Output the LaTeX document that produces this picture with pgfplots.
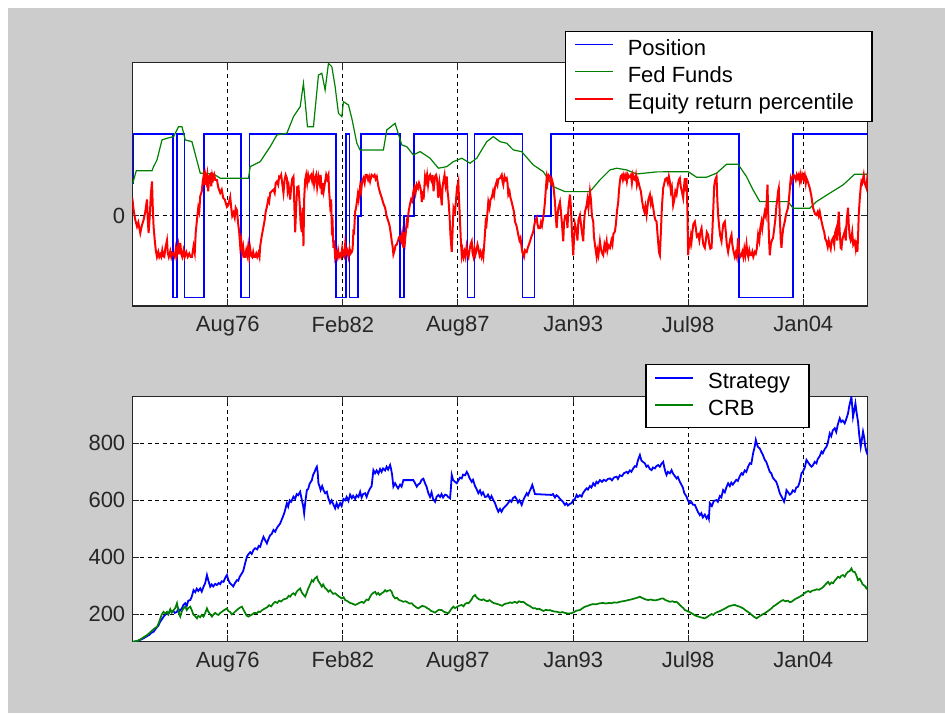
\documentclass[border=0pt]{standalone}
\usepackage{fontspec}
\setmainfont{Liberation Sans}
\usepackage{pgfplots}
\pgfplotsset{compat=1.18}
\definecolor{mgray}{RGB}{204,204,204}
\definecolor{mblue}{RGB}{0,0,255}
\definecolor{mgreen}{RGB}{0,128,0}
\definecolor{mred}{RGB}{255,0,0}
\pgfplotsset{
  mstyle/.style={
    scale only axis, width=367.7pt,
    axis background/.style={fill=white},
    axis line style={black!85, line width=0.75pt},
    tick align=inside, tick pos=both, major tick length=3.5pt,
    every tick/.style={black!85, line width=0.6pt},
    grid=major,
    major grid style={black, dash pattern=on 2pt off 1.8pt, line width=0.6pt},
    xmin=132, xmax=868,
    xtick={227.5,342.7,457.8,573.3,688.3,803.5},
    xticklabels={Aug76,Feb82,Aug87,Jan93,Jul98,Jan04},
    tick label style={font=\fontsize{11}{13}\selectfont, text=black!85},
    xticklabel style={yshift=-1.5pt},
    /pgf/number format/assume math mode=true,
    legend cell align=left,
    legend image code/.code={\path[draw=none] (-2pt,0pt) -- (23pt,0pt);\draw[#1] (0pt,2.5pt) -- (19pt,2.5pt);},
    legend style={draw=black, line width=0.7pt, fill=white,
      font=\fontsize{11}{13}\selectfont, anchor=north east,
      inner xsep=2.5pt, inner ysep=2.25pt, row sep=0pt,
      nodes={inner xsep=3.5pt, inner ysep=0.75pt, text height=9pt, text depth=3pt}},
  }
}
\begin{document}
\begin{tikzpicture}
\fill[white] (0pt,0pt) rectangle (472.5pt,356.5pt);
\fill[mgray] (4pt,0pt) rectangle (472.5pt,352.5pt);
% ---------------- top axis ----------------
\begin{axis}[mstyle, at={(66.15pt,203.5pt)}, anchor=south west,
  height=121.65pt, ymin=-1.10, ymax=1.87, ytick={0},
  legend style={at={(1.0068,1.131)}}]
\addplot[mblue, line width=0.65pt, const plot] coordinates {
(132,0.4) (133,1) (172.7,-1) (176.7,1) (184.3,-1) (203.7,1) (240.7,-1) (249.3,1)
(336,-1) (346,1) (349.3,-1) (358,0) (361,1) (400,-1) (404,0) (414,1) (467.7,-1)
(474.5,1) (522.5,-1) (534.3,0) (551,1) (739.3,-1) (793.3,1) (868,1)};
\addlegendentry{Position}
\addplot[mgreen, line width=0.6pt] coordinates {
(132,0.378) (136,0.552) (151.7,0.552) (153.3,0.601) (156.7,0.683) (161.7,0.927)
(166.7,0.948) (173.3,0.967) (178.3,1.089) (181.7,1.089) (185,0.927) (191.7,0.906)
(200,0.521) (213.3,0.512) (220,0.460) (248.3,0.460) (250,0.601) (260,0.662)
(270,0.845) (276.7,0.988) (286.7,1.009) (293.3,1.211) (300,1.333) (303.3,1.618)
(307.3,1.089) (313.3,1.089) (318.3,1.720) (321.7,1.740) (325,1.537) (328.3,1.862)
(331.7,1.821) (335,1.577) (338.3,1.252) (341.7,1.211) (343.3,1.394) (348.3,1.354)
(351.7,1.191) (356.7,0.887) (360,0.805) (383.3,0.805) (386.7,1.049) (395,1.130)
(401.7,0.866) (406.7,0.845) (413.3,0.744) (420,0.785) (430,0.704) (438.3,0.582)
(446.7,0.601) (453.3,0.662) (461.7,0.704) (470,0.643) (476.7,0.704) (486.7,0.906)
(493.3,0.967) (500,0.906) (506.7,0.887) (513.3,0.805) (521.7,0.784) (533.3,0.622)
(543.3,0.540) (553.3,0.357) (565,0.296) (590,0.296) (600,0.439) (610,0.561)
(616.7,0.582) (626.7,0.561) (636.7,0.512) (656.7,0.537) (688.3,0.540) (696.7,0.472)
(706.7,0.472) (716.7,0.521) (726.7,0.630) (738.3,0.630) (746.7,0.479) (753.3,0.317)
(760,0.174) (788.3,0.174) (793.3,0.094) (810,0.094) (816.7,0.174) (830,0.277)
(843.3,0.378) (855,0.509) (868,0.509)};
\addlegendentry{Fed Funds}
\addplot[mred, line width=1pt] coordinates {
(132,0.22) (133,0.10) (134,0.02) (135,-0.05) (136.7,-0.13) (138,-0.08) (140,-0.21) (141.5,-0.12)
(143.3,-0.05) (145,0.05) (146.7,0.2) (147.5,-0.05) (148.3,-0.21) (149.5,0.0) (150.5,0.25) (151.7,0.42)
(152.5,0.1) (153.3,-0.13) (154.5,-0.3) (155.5,-0.42) (156.7,-0.5) (158,-0.44) (159,-0.5) (160,-0.47)
(161,-0.5) (162,-0.42) (163,-0.49) (164,-0.5) (165,-0.4) (166.7,-0.3) (167.5,-0.45) (168.5,-0.5)
(170,-0.43) (171,-0.5) (172,-0.45) (173.3,-0.46) (174.5,-0.5) (175.5,-0.4) (176.5,-0.48) (178,-0.36)
(179,-0.47) (180,-0.33) (181,-0.46) (182,-0.5) (183.3,-0.42) (184.5,-0.5) (186,-0.44) (187.5,-0.5)
(189,-0.46) (190.5,-0.5) (191.7,-0.5) (193.3,-0.37) (194.5,-0.45) (195.5,-0.2) (196.7,-0.05) (198,0.1)
(199,0.05) (200,0.24) (201.5,0.3) (202.5,0.42) (203.3,0.48) (204,0.38) (205,0.5) (206,0.42)
(207,0.5) (208,0.3) (209,0.48) (210,0.5) (211,0.36) (212,0.5) (213,0.45) (214,0.5)
(215,0.44) (216.7,0.44) (218,0.35) (220,0.28) (221.5,0.32) (223,0.22) (224.5,0.2) (226.7,0.11)
(228,0.13) (230,0.23) (231,0.1) (232,0.0) (233.3,0.04) (234.5,-0.02) (235.5,0.1) (236.7,0.07)
(238,-0.1) (239,-0.2) (240,-0.37) (241,-0.3) (242,-0.45) (243,-0.38) (244,-0.5) (245,-0.5)
(246,-0.42) (247,-0.48) (248,-0.37) (249,-0.5) (250,-0.4) (251,-0.48) (252,-0.5) (253,-0.44)
(254,-0.5) (255,-0.5) (256,-0.46) (257,-0.5) (258.3,-0.45) (259.3,-0.5) (260,-0.37) (261.5,-0.25)
(263.3,-0.13) (264.5,-0.05) (265.5,0.05) (266.7,0.11) (268,0.2) (269,0.17) (270,0.28) (271.5,0.3)
(273.3,0.32) (274.5,0.28) (275.5,0.4) (276.7,0.42) (278,0.38) (279,0.48) (280,0.47) (281,0.5)
(282,0.4) (283.3,0.28) (284.5,0.45) (285.5,0.5) (286.7,0.46) (287.5,0.3) (288.5,0.36) (290,0.2)
(291,0.35) (292,0.45) (293.3,0.48) (294,0.2) (295,-0.2) (296,0.1) (297,0.35) (298.3,0.36)
(299.5,0.15) (300.5,-0.1) (301.7,-0.2) (302.5,0.1) (303.3,-0.37) (304,0.2) (305,0.44) (306,0.5)
(307,0.4) (308,0.5) (309,0.44) (310,0.48) (311,0.5) (312,0.43) (313,0.5) (314,0.38)
(315,0.46) (316,0.5) (317,0.35) (318.3,0.48) (319.5,0.4) (320.5,0.5) (321.7,0.26) (322.5,0.4)
(323.5,0.3) (325,0.42) (326,0.5) (327,0.45) (328.3,0.5) (329,0.3) (330,0.13) (331,0.2)
(331.7,-0.15) (332.5,-0.1) (333.3,-0.39) (334,-0.3) (335,-0.5) (336,-0.45) (337,-0.5) (338,-0.42)
(339,-0.5) (340,-0.47) (341,-0.5) (342,-0.4) (343,-0.48) (344,-0.5) (345,-0.35) (346,-0.45)
(347,-0.42) (348.3,-0.5) (349.5,-0.4) (350.5,-0.46) (351.7,-0.44) (352.5,-0.4) (353.3,-0.19) (354,-0.2)
(355,0.05) (356,0.1) (357.7,0.26) (358.5,0.2) (360,0.36) (361,0.3) (362,0.42) (363.3,0.46)
(364.5,0.4) (365.5,0.5) (366.7,0.5) (368,0.44) (369,0.48) (370,0.42) (371.5,0.5) (373.3,0.48)
(374.5,0.5) (375.5,0.45) (376.7,0.48) (378.3,0.36) (380,0.28) (381.7,0.22) (383.3,0.15) (385,0.1)
(386.5,0.0) (388.3,-0.07) (389.5,-0.12) (390.5,-0.2) (391.7,-0.31) (392.5,-0.37) (393.3,-0.47) (394.5,-0.42)
(395.5,-0.36) (396.7,-0.35) (398,-0.3) (399,-0.26) (400,-0.25) (401,-0.3) (402,-0.22) (403.3,-0.39)
(404,-0.2) (405,-0.3) (406.7,-0.07) (407.5,-0.1) (408.5,0.05) (410,0.15) (411,0.2) (412,0.18)
(413.3,0.3) (414.5,0.35) (415.5,0.28) (416.7,0.38) (418,0.34) (419,0.4) (420,0.36) (421,0.3)
(421.7,0.17) (422.5,0.3) (423.5,0.2) (425,0.48) (426,0.42) (427,0.5) (428,0.38) (429,0.48)
(430,0.5) (431,0.44) (431.7,0.42) (432.5,0.5) (433.5,0.3) (435,0.48) (436,0.5) (437,0.45)
(438.3,0.22) (439.5,0.4) (440.5,0.3) (441.7,0.13) (442.5,0.35) (443.3,0.42) (444.5,0.5) (445.5,0.38)
(446.7,0.48) (447.5,0.3) (448.3,0.22) (449.5,0.0) (450.5,-0.25) (451.7,-0.44) (452.5,-0.2) (453.5,0.1)
(455,0.05) (456,0.2) (457,0.35) (458.3,0.42) (459,0.2) (460,-0.07) (460.8,-0.3) (461.7,-0.48)
(462.5,-0.42) (463.5,-0.5) (464.5,-0.44) (465.5,-0.5) (466.5,-0.38) (467.5,-0.46) (468.5,-0.5) (469.5,-0.42)
(470.5,-0.35) (471.7,-0.31) (472.5,-0.45) (473.5,-0.5) (474.5,-0.4) (475.5,-0.47) (476.5,-0.42) (477.5,-0.35)
(478.3,-0.39) (479.5,-0.48) (480.5,-0.44) (481.5,-0.5) (482.5,-0.45) (483.3,-0.5) (484.5,-0.3) (485.7,-0.07)
(486.5,-0.1) (487.5,0.05) (488.3,0.17) (489.5,0.1) (490.5,0.2) (491.7,0.22) (493,0.3) (494,0.25)
(495,0.35) (496.7,0.42) (497.5,0.38) (498.5,0.45) (500,0.46) (501.7,0.5) (502.5,0.42) (503.3,0.38)
(504.5,0.48) (505.5,0.44) (506.7,0.46) (507.5,0.4) (508.3,0.26) (509.5,0.3) (510.5,0.22) (511.7,0.17)
(513,0.1) (514,0.05) (515,-0.07) (516.5,-0.12) (518.3,-0.23) (519.5,-0.3) (520.5,-0.27) (521.7,-0.39)
(522.5,-0.45) (524,-0.5) (525,-0.42) (526.7,-0.44) (528,-0.38) (529,-0.35) (530,-0.31) (531.5,-0.25)
(532.5,-0.22) (533.3,-0.19) (534.5,-0.1) (535.5,-0.05) (536.7,-0.02) (537.5,-0.1) (538.5,-0.15) (540,-0.15)
(541,-0.08) (542,-0.12) (543.3,-0.02) (544,0.05) (545,0.17) (546,0.35) (546.7,0.46) (547.5,0.4)
(548.5,0.5) (550,0.48) (551,0.4) (552,0.44) (553.3,0.38) (554,0.3) (555,0.17) (555.8,0.0)
(556.7,-0.15) (557.5,0.0) (558.5,0.1) (560,0.17) (561,0.05) (562,-0.1) (563.3,-0.31) (564,-0.1)
(565,0.0) (566.7,0.01) (567.5,-0.15) (568.5,0.1) (570,0.26) (571,0.1) (572,-0.2) (573.3,-0.48)
(574,-0.3) (575,-0.1) (576.7,-0.19) (577.5,-0.3) (578.5,-0.05) (580,0.01) (581,-0.1) (582,-0.2)
(583.3,-0.31) (584,-0.1) (585,0.05) (586.7,0.13) (587.5,0.2) (588.5,0.1) (590,0.3) (591,0.2)
(592,0.0) (593.3,-0.07) (594,-0.25) (595,-0.35) (596.7,-0.5) (597.5,-0.42) (598.5,-0.48) (600,-0.31)
(601,-0.4) (602,-0.45) (603.3,-0.48) (604.5,-0.35) (605.5,-0.4) (606.7,-0.31) (607.5,-0.42) (608.5,-0.36)
(610,-0.39) (611.5,-0.3) (612.5,-0.35) (613.5,-0.22) (615,-0.19) (616,-0.1) (617,0.05) (618.3,0.17)
(619,0.3) (620,0.42) (620.7,0.48) (622,0.5) (623,0.44) (624,0.5) (625,0.46) (626,0.5)
(627,0.42) (628,0.5) (629,0.47) (630,0.48) (631,0.5) (632,0.4) (633,0.5) (634,0.45)
(635,0.44) (636,0.5) (637,0.38) (638,0.44) (640,0.34) (641,0.3) (642,0.2) (643.3,0.1)
(644.5,0.05) (645.5,0.12) (646.7,0.01) (647.5,0.1) (648.5,0.2) (650,0.26) (651,0.15) (652,0.2)
(653.3,0.1) (654.5,0.0) (655.5,-0.05) (656.7,-0.07) (657.5,-0.2) (658.5,-0.35) (659.2,-0.45) (660,-0.48)
(661,-0.2) (662,0.1) (663.3,0.34) (664.5,0.4) (665.5,0.45) (666.7,0.46) (668,0.4) (669,0.48)
(670,0.42) (671,0.3) (672,0.35) (673.3,0.13) (674.5,0.2) (675.5,0.3) (676.7,0.26) (678,0.38)
(679,0.44) (680,0.46) (681,0.35) (682,0.3) (683.3,0.22) (684.5,0.4) (685,0.46) (686,0.3)
(686.7,0.46) (687.5,0.1) (688.3,-0.48) (689,-0.3) (690,-0.35) (691,-0.25) (691.7,-0.31) (692.5,-0.2)
(693.5,-0.1) (695,-0.07) (696,-0.15) (697,-0.25) (698.3,-0.23) (699.5,-0.3) (700.5,-0.2) (701.7,-0.15)
(702.5,-0.25) (703.5,-0.35) (705,-0.39) (706,-0.3) (707,-0.2) (708.3,-0.23) (709.5,-0.35) (710.5,-0.4)
(711.7,-0.39) (712.5,-0.2) (713.5,0.1) (714.3,0.35) (715,0.42) (716,0.46) (716.7,0.48) (717.5,0.2)
(718.3,0.01) (719.5,-0.15) (720.5,-0.25) (721.7,-0.31) (722.5,-0.2) (723.5,-0.1) (725,-0.07) (726,-0.2)
(727,-0.35) (728.3,-0.44) (729.5,-0.35) (730.5,-0.28) (731.7,-0.23) (732.5,-0.35) (733.5,-0.42) (735,-0.5)
(736,-0.45) (737,-0.5) (738.3,-0.27) (739.5,-0.45) (740.5,-0.5) (741.7,-0.48) (742.5,-0.44) (743.5,-0.5)
(744.5,-0.4) (745.5,-0.48) (746.7,-0.35) (747.5,-0.45) (748.5,-0.5) (749.5,-0.42) (750.5,-0.48) (751.7,-0.48)
(752.5,-0.44) (753.5,-0.5) (755,-0.44) (756,-0.46) (757,-0.4) (758.3,-0.23) (759.5,-0.3) (760.5,-0.15)
(761.7,-0.07) (762.5,-0.15) (763.5,-0.05) (765,0.05) (766,0.0) (767,0.2) (767.7,0.38) (768.5,0.0)
(769.3,-0.3) (770,-0.48) (771,-0.35) (772,-0.3) (773.3,-0.27) (774.5,-0.15) (775.5,-0.05) (776.7,0.13)
(777.5,0.2) (778.3,0.3) (779,0.34) (780,0.0) (781,-0.3) (781.7,-0.39) (782.5,-0.25) (783.5,-0.15)
(785,-0.07) (786,0.0) (787,0.05) (788.3,0.1) (789.5,0.25) (790.5,0.4) (791,0.46) (792,0.42)
(793,0.48) (794,0.5) (795,0.48) (796,0.44) (797,0.5) (798,0.46) (799,0.5) (800,0.42)
(801,0.5) (801.7,0.44) (803,0.5) (804,0.45) (805,0.5) (806,0.4) (806.7,0.46) (808,0.42)
(809,0.38) (810,0.34) (811.5,0.25) (813.3,0.1) (814.5,0.05) (815.5,0.02) (816.7,0.01) (818,0.05)
(819,0.0) (820,0.05) (821.5,-0.05) (823.3,-0.15) (824.5,-0.2) (825.5,-0.28) (826.7,-0.31) (828,-0.38)
(829,-0.3) (830,-0.35) (831,-0.4) (832,-0.3) (833.3,-0.27) (834.5,-0.35) (835.5,-0.2) (836.7,-0.15)
(837.5,-0.3) (838.3,-0.1) (839,0.05) (840,-0.2) (841,-0.39) (841.7,-0.4) (842.5,-0.3) (843.5,-0.25)
(845,-0.19) (846,-0.3) (847,-0.05) (848.3,0.1) (849,-0.1) (850,-0.25) (851,-0.3) (851.7,-0.27)
(852.5,-0.2) (853.5,-0.35) (855,-0.31) (856,-0.4) (857,-0.3) (857.7,-0.44) (858.5,-0.2) (859,0.01)
(860,0.2) (861,0.35) (861.7,0.42) (862.5,0.4) (864,0.5) (865,0.4) (866.7,0.34) (867.5,0.45) (868,0.42)};
\addlegendentry{Equity return percentile\rule{3pt}{0pt}}
\end{axis}
% ---------------- bottom axis ----------------
\begin{axis}[mstyle, at={(66.15pt,35.65pt)}, anchor=south west,
  height=122.7pt, ymin=104, ymax=965, ytick={200,400,600,800},
  legend style={at={(0.9212,1.1316)}}]
\addplot[mblue, line width=0.9pt] coordinates {
(132.3,100) (135,103) (138,108) (141,112) (143.3,116) (146,122) (149,128) (151,135) (153.3,139) (156,152)
(158,160) (160,175) (161.5,182) (163.3,192) (165,198) (166.5,206) (168,200) (170,215) (171.5,208) (173,212)
(174.5,205) (176.7,209) (178,220) (179.5,212) (181.7,221) (183,232) (185,239) (186.5,230) (188,248) (190,250)
(191.5,262) (193.3,285) (195,278) (196.5,290) (198,282) (200,291) (201.5,280) (203.3,297) (205,310) (206.7,338)
(208,320) (210,297) (211.5,305) (213,298) (215,307) (216.7,303) (218.5,310) (220,306) (221.5,316) (223.3,314)
(225,328) (226.7,338) (228,322) (229.5,310) (231.7,303) (233,298) (234.5,308) (236.7,320) (238,318) (239.5,332)
(241.7,344) (243,352) (245,380) (246.7,402) (248,410) (250,418) (251.5,412) (253.3,426) (255,432) (257,428)
(258.5,440) (260,437) (261.5,455) (263.3,472) (265,460) (266.7,449) (268,462) (270,478) (271.5,482) (273.3,496)
(275,490) (277,505) (278.5,512) (280,519) (281.5,532) (283,545) (284.5,560) (286.7,590) (288,578) (289.5,600)
(291,595) (293.3,613) (295,605) (296.5,622) (298,618) (300,630) (301.7,601) (303,580) (304,554) (305,590)
(306.7,636) (308,640) (309.5,658) (311.7,671) (313,690) (314.5,700) (315.5,710) (316.7,718) (317.5,700) (318.3,660)
(319.5,648) (320.5,636) (322,650) (323.5,635) (325,625) (326.7,630) (328,610) (330,590) (331.5,600) (333.3,585)
(335,572) (336.5,590) (338,575) (340,590) (341.5,580) (343.3,605) (345,600) (346.5,612) (348.3,598) (350,620)
(351.7,608) (353,616) (355,605) (356.5,618) (358.3,612) (360,630) (361.5,610) (363,622) (365,625) (366.5,612)
(368.3,630) (370,642) (371.5,650) (373.3,706) (375,695) (376.5,705) (378.3,694) (380,710) (381.5,700) (383,712)
(385,705) (386.5,718) (388,708) (390,724) (391,710) (392,690) (393.3,648) (395,660) (396.5,650) (398,642)
(400,655) (401.5,648) (403.3,671) (413.3,671) (415,660) (416.7,648) (418,655) (420,660) (421.5,672) (423.3,676)
(425,660) (426.5,648) (428.3,625) (430,612) (431.5,628) (433,605) (435,595) (436.5,612) (438.3,619) (440,612)
(441.5,622) (443,610) (445,620) (446.7,618) (448,612) (450,607) (450.8,640) (451.7,689) (453,672) (455,665)
(456.7,660) (458,668) (460,680) (461.7,677) (463,690) (465,688) (466.7,700) (468,692) (469.5,678) (471.7,665)
(473,672) (475,650) (476.5,640) (478.3,625) (480,635) (481.5,620) (483,628) (485,612) (486.7,613) (488,620)
(490,605) (491.5,615) (493.3,601) (495,590) (496.5,575) (498.3,560) (500,570) (501.5,560) (503.3,572) (505,578)
(506.7,584) (508,590) (510,600) (511.5,595) (513,608) (515,613) (516.5,605) (518,592) (519.5,600) (521.7,584)
(523,598) (524.5,610) (526.7,625) (528,618) (530,635) (531,642) (532.3,654) (533.5,640) (535,622) (551.7,619)
(553,622) (555,610) (556.5,618) (558.3,613) (560,605) (561.5,600) (563,595) (565,584) (566.5,590) (568,582)
(570,588) (571.7,590) (573,600) (575,605) (576.7,619) (578,612) (580,618) (581.7,613) (583,625) (585,635)
(586.7,642) (588,638) (590,650) (591.5,645) (593.3,660) (595,652) (596.5,665) (598,660) (600,671) (602,665)
(604,672) (606,668) (608,675) (610,677) (612,670) (614,680) (616.7,683) (618,675) (620,688) (622,685)
(624,695) (626.7,700) (628,695) (630,705) (631.5,700) (633.3,712) (635,720) (636.5,718) (638,740) (640,759)
(641.5,740) (643,735) (645,730) (646.5,718) (648,722) (650,710) (651.7,706) (653,715) (655,712) (656.5,720)
(658.3,724) (660,718) (661.5,728) (663.3,735) (664.5,715) (665.5,700) (666.7,689) (668,700) (670,695) (671.7,706)
(673,695) (675,685) (676.7,677) (678,682) (680,665) (681.7,654) (683,645) (684.5,625) (686.7,613) (688,600)
(690,590) (691.5,595) (693,585) (695,584) (696.5,572) (698,560) (700,548) (701.5,555) (703,540) (705,550)
(706.7,537) (708,545) (709,535) (710,590) (712,580) (714,598) (716.7,601) (718,595) (720,615) (721.5,610)
(723.3,636) (725,628) (726.5,645) (728.3,660) (730,650) (731.5,662) (733,655) (735,665) (736.5,672) (738,668)
(740,685) (741.7,695) (743,690) (745,705) (746.5,700) (748.3,718) (750,730) (751.5,728) (753.3,765) (755,790)
(756,812) (757,800) (758,788) (760,782) (761.5,770) (763,760) (765,742) (766.5,735) (768,720) (770,700)
(771.5,695) (773,680) (775,671) (776.5,665) (778,650) (780,625) (781.5,615) (783,605) (784.3,595) (785.5,610)
(786.7,636) (788,630) (790,620) (791.7,625) (793,635) (795,630) (796.5,645) (798.3,648) (800,665) (801.7,695)
(803,700) (805,715) (806.7,742) (808,735) (810,725) (811.7,718) (813,722) (815,735) (816.7,730) (818,745)
(820,755) (821.7,771) (823,765) (825,780) (826.7,788) (828,800) (830,835) (831.5,825) (833,845) (835,853)
(836.5,840) (838,865) (840,888) (841.5,875) (843,880) (845,870) (846.5,885) (848.3,905) (849.5,930) (850.5,945)
(851.7,963) (852.5,930) (853.3,893) (854.5,915) (855.7,940) (857,905) (858.3,876) (859.5,830) (861,788) (862,810)
(863.3,841) (864.5,820) (865.5,790) (866.7,771) (868,759)};
\addlegendentry{Strategy\rule{3.5pt}{0pt}}
\addplot[mgreen, line width=0.85pt] coordinates {
(132.3,104) (135,106) (138,108) (141,114) (143.5,120) (146.7,127) (149,134) (151.5,142) (154,150) (156.7,156)
(158.5,170) (160,185) (161.5,200) (163.3,209) (165,203) (166.7,209) (168,200) (170,218) (171.5,206) (173.3,215)
(175,222) (176.7,239) (178,215) (179,200) (180,192) (181.5,210) (183,220) (185,227) (186.5,215) (188,222)
(190,227) (191.5,215) (193,200) (194.5,195) (196.7,186) (198,195) (200,190) (201.5,198) (203.3,192) (205,205)
(206.7,221) (208,210) (210,200) (211.7,192) (213,198) (215,205) (216.7,200) (218.3,198) (220,205) (222,210)
(224,215) (226.7,221) (228,212) (230,208) (231.5,200) (233.3,204) (235,210) (237,216) (239,222) (241.7,227)
(243,218) (245,205) (246.5,195) (248.3,192) (250,196) (252,200) (254,205) (256.7,204) (258.5,210) (260,208)
(262,215) (265,221) (267,225) (269,232) (271,228) (273.3,239) (275,244) (277,240) (279,248) (281,245)
(283,252) (286.7,256) (288.5,265) (290,262) (291.5,270) (293.3,274) (295,268) (296.5,280) (298,285) (300,291)
(301.5,278) (303,270) (305,262) (306.5,275) (308,290) (310,305) (311.7,320) (313,315) (314.5,325) (316.7,332)
(318,318) (319.5,310) (321.7,297) (323,305) (325,292) (326.5,288) (328.3,279) (330,285) (331.5,278) (333,272)
(335,274) (337,268) (339,262) (341.7,256) (343.5,260) (345,250) (346.5,248) (348.3,244) (350,240) (352,238)
(355,233) (357,236) (359,240) (361.7,244) (363.5,240) (365,246) (366.5,252) (368.3,250) (370,262) (371.5,270)
(373,275) (375,279) (376.5,270) (378,275) (379.5,268) (381.7,274) (383.5,278) (385,285) (386.5,280) (388,283)
(390,285) (391.5,280) (393,265) (395,256) (397,258) (399,250) (401,248) (403.3,244) (405.5,246) (407.5,242)
(409.5,238) (411.7,239) (413.5,232) (415,228) (416.5,224) (418.3,221) (420,225) (422,230) (425,227) (427,222)
(429,218) (431,212) (433.3,209) (435,206) (437,212) (439,216) (441.7,215) (443.5,210) (446,206) (448.3,204)
(450,212) (451.5,220) (453.3,227) (455,222) (457,226) (459,230) (461.7,233) (463.5,228) (465,236) (466.7,240)
(468.3,239) (470,245) (471.5,252) (473,262) (475,268) (476.5,260) (478,255) (479.5,252) (481.7,250) (483.5,253)
(485.5,248) (487.5,246) (489.5,250) (491.7,244) (493.5,240) (495.5,238) (497.5,236) (500,233) (502,230) (504,235)
(506,238) (508.3,239) (510,242) (512,240) (515,244) (517,240) (519,246) (521,243) (523.3,244) (525.5,238)
(527.5,233) (529.5,230) (531.5,225) (533.3,221) (535,222) (537,218) (539,220) (541.7,215) (543.5,212) (546,216)
(548,214) (550,215) (552,212) (554.5,210) (557,209) (560,206) (562.5,208) (565,205) (568,203) (571.7,204)
(574,208) (576,212) (578,214) (580,215) (582,220) (584,225) (586,228) (588,230) (590,233) (593,236)
(596,235) (600,239) (603,240) (606,238) (609,240) (611.7,239) (614,242) (617,241) (620,244) (623,246)
(626,248) (628.3,250) (631,252) (634,255) (637,258) (640,262) (642,258) (644,255) (646,252) (648.3,250)
(651,252) (654,249) (656.7,250) (659,252) (661,255) (663.3,256) (665.5,250) (668,247) (670,244) (672.5,246)
(674.5,243) (676.7,244) (678.5,238) (680,233) (681.7,227) (683.5,222) (685,215) (687,212) (689,209) (691.7,204)
(693.5,200) (695.5,196) (698.3,192) (700.5,190) (702.5,188) (705,186) (707,190) (709,195) (711.7,201) (713.5,198)
(715.5,205) (718.3,209) (720.5,212) (722.5,216) (725,220) (728.3,227) (730.5,230) (733,232) (735,233) (737,230)
(739,228) (741,225) (743.3,221) (745.5,215) (747.5,210) (750,204) (752,198) (754,192) (756.7,186) (758.5,190)
(760.5,195) (763.3,201) (765.5,205) (767.5,210) (769.5,215) (771.7,221) (773.5,228) (775.5,232) (778.3,239) (780.5,245)
(783.3,250) (785.5,246) (788,248) (790,243) (791.7,244) (794,250) (796,255) (798,258) (800,262) (802,266)
(804,272) (806.7,279) (808.5,282) (810.5,278) (812.5,283) (815,285) (817,288) (819,286) (821.7,291) (823.5,296)
(825,302) (826.5,308) (828.3,314) (830,305) (831.7,312) (833.3,309) (835,318) (836.7,325) (838.3,332) (840,328)
(841.5,335) (843.3,338) (845,332) (846.5,342) (848.3,349) (850,352) (851.7,361) (853,350) (855,349) (856.5,338)
(858.3,320) (860,325) (861.7,314) (863,305) (865,300) (866.7,291) (868,297)};
\addlegendentry{CRB}
\end{axis}
\end{tikzpicture}
\end{document}
